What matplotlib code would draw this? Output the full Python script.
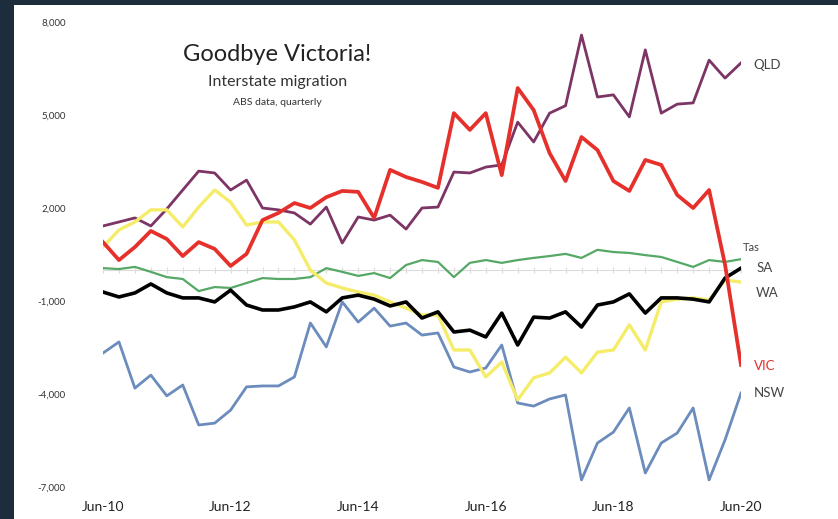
import matplotlib.pyplot as plt
import matplotlib.patches as mpatches
import numpy as np

plt.rcParams['font.family'] = ['Lato', 'DejaVu Sans']

# quarterly interstate migration, Jun-10 .. Jun-20
quarters = np.arange(41)
tick_pos = [0, 8, 16, 24, 32, 40]
tick_labels = ['Jun-10', 'Jun-12', 'Jun-14', 'Jun-16', 'Jun-18', 'Jun-20']

qld = [1420, 1550, 1680, 1420, 1970, 2580, 3190, 3130, 2580, 2900,
       2000, 1940, 1840, 1480, 2030, 870, 1710, 1610, 1770, 1320,
       2000, 2030, 3160, 3130, 3320, 3390, 4770, 4130, 5060, 5300,
       7580, 5580, 5650, 4940, 7100, 5060, 5350, 5390, 6770, 6190, 6680]
vic = [900, 320, 740, 1260, 1000, 450, 900, 680, 130, 520,
       1610, 1840, 2160, 2000, 2350, 2550, 2520, 1680, 3230, 3000,
       2840, 2650, 5060, 4520, 5060, 3060, 5870, 5160, 3770, 2870,
       4290, 3870, 2870, 2550, 3550, 3390, 2420, 2000, 2580, 170, -3060]
wa = [740, 1290, 1550, 1940, 1940, 1390, 2030, 2580, 2190, 1450,
      1550, 1550, 970, 0, -420, -580, -710, -810, -1030, -1230,
      -1450, -1450, -2580, -2580, -3450, -2970, -4190, -3480, -3320, -2810,
      -3320, -2650, -2580, -1770, -2580, -1030, -940, -900, -970, -320, -390]
sa = [-710, -870, -740, -450, -740, -900, -900, -1030, -650, -1130,
      -1290, -1290, -1190, -1030, -1350, -900, -810, -940, -1160, -1030,
      -1550, -1350, -2000, -1940, -2160, -1390, -2420, -1520, -1550, -1350,
      -1840, -1130, -1030, -770, -1390, -900, -900, -940, -1030, -260, 60]
tas = [60, 30, 100, -60, -230, -290, -680, -550, -580, -420,
       -260, -290, -290, -230, 60, -60, -190, -100, -260, 160,
       320, 260, -230, 230, 320, 230, 320, 390, 450, 520,
       390, 650, 580, 550, 480, 420, 260, 100, 320, 260, 350]
nsw = [-2680, -2320, -3810, -3390, -4060, -3710, -5000, -4940, -4520, -3770,
       -3740, -3740, -3450, -1710, -2480, -1030, -1680, -1230, -1810, -1710,
       -2100, -2030, -3130, -3290, -3160, -2420, -4290, -4390, -4160, -4030,
       -6770, -5580, -5230, -4450, -6550, -5580, -5260, -4450, -6770, -5480, -3970]

fig = plt.figure(figsize=(8.38, 5.19), dpi=100)
fig.patch.set_facecolor('#1e2d3b')
fig.patches.append(mpatches.Rectangle((14 / 838, 0), 1, 1 - 5 / 519,
                                      transform=fig.transFigure,
                                      facecolor='white', edgecolor='none', zorder=-10))

ax = fig.add_axes([103 / 838, 32 / 519, 638 / 838, 465 / 519])
ax.set_facecolor('none')

ax.plot(quarters, tas, color='#55a865', lw=1.6, zorder=3)
ax.plot(quarters, nsw, color='#6b8cbc', lw=2.0, zorder=3)
ax.plot(quarters, qld, color='#7c3565', lw=2.0, zorder=3)
ax.plot(quarters, wa, color='#f5ed6a', lw=2.4, zorder=4)
ax.plot(quarters, sa, color='black', lw=2.6, zorder=5)
ax.plot(quarters, vic, color='#e5302b', lw=2.7, zorder=6)

ax.set_xlim(0, 40)
ax.set_ylim(-7000, 8000)

# zero line with quarterly ticks
for s in ['top', 'right', 'left']:
    ax.spines[s].set_visible(False)
ax.spines['bottom'].set_position(('data', 0))
ax.spines['bottom'].set_color('#dcdcdc')
ax.set_xticks(quarters)
ax.tick_params(axis='x', direction='inout', length=4, color='#dcdcdc', labelbottom=False)

ax.set_yticks([-7000, -4000, -1000, 2000, 5000, 8000])
ax.set_yticklabels(['{:,}'.format(v) for v in [-7000, -4000, -1000, 2000, 5000, 8000]])
ax.tick_params(axis='y', length=0, pad=27, labelsize=7, labelcolor='#333333')

sec = ax.secondary_xaxis(0)
sec.spines['bottom'].set_visible(False)
sec.set_xticks(tick_pos)
sec.set_xticklabels(tick_labels)
sec.tick_params(length=0, pad=10, labelsize=10, labelcolor='#222222')

# titles
ax.text(0.273, 0.93, 'Goodbye Victoria!', transform=ax.transAxes, ha='center', va='center',
        fontsize=17, color='#222222')
ax.text(0.273, 0.872, 'Interstate migration', transform=ax.transAxes, ha='center', va='center',
        fontsize=11.5, color='#333333')
ax.text(0.273, 0.826, 'ABS data, quarterly', transform=ax.transAxes, ha='center', va='center',
        fontsize=7.5, color='#333333')

# end labels
labels = [('QLD', qld, 12, -2, '#444444', 9.5),
          ('Tas', tas, 2, 12, '#444444', 8),
          ('SA', sa, 16, 0, '#444444', 9.5),
          ('WA', wa, 15, -11, '#444444', 9.5),
          ('VIC', vic, 13, -1, '#e5302b', 9.5),
          ('NSW', nsw, 13, 0, '#444444', 9.5)]
for name, series, dx, dy, col, fs in labels:
    ax.annotate(name, (40, series[-1]), xytext=(dx, dy), textcoords='offset pixels',
                ha='left', va='center', fontsize=fs, color=col, annotation_clip=False)

plt.savefig('out.png', dpi=100)
